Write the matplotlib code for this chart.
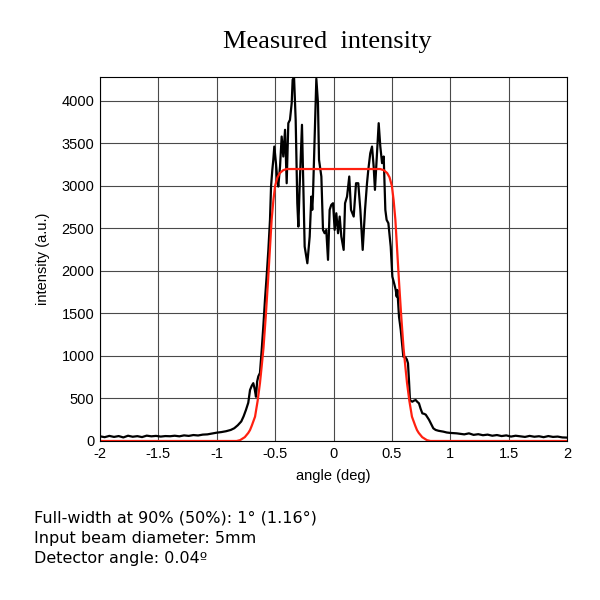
import matplotlib
matplotlib.use("Agg")
import matplotlib.pyplot as plt

# measured intensity (black)
angle = [-2.00, -1.96, -1.92, -1.88, -1.84, -1.80, -1.76, -1.72, -1.68, -1.64,
         -1.60, -1.56, -1.52, -1.48, -1.44, -1.40, -1.36, -1.32, -1.28, -1.24,
         -1.20, -1.16, -1.12, -1.08, -1.04, -1.00, -0.96, -0.92, -0.88, -0.85,
         -0.82, -0.79, -0.77, -0.75, -0.73, -0.715, -0.70, -0.687, -0.675, -0.664,
         -0.654, -0.644, -0.63, -0.615, -0.60, -0.587, -0.572, -0.558, -0.544, -0.535,
         -0.524, -0.516, -0.507, -0.493, -0.483, -0.473, -0.458, -0.444, -0.43, -0.415,
         -0.401, -0.387, -0.373, -0.358, -0.35, -0.338, -0.324, -0.31, -0.301, -0.29,
         -0.27, -0.258, -0.247, -0.233, -0.224, -0.204, -0.19, -0.182, -0.176, -0.161,
         -0.147, -0.133, -0.124, -0.104, -0.09, -0.076, -0.062, -0.047, -0.033, -0.019,
         -0.004, 0.01, 0.024, 0.039, 0.053, 0.067, 0.087, 0.099, 0.116, 0.135,
         0.15, 0.173, 0.193, 0.212, 0.23, 0.25, 0.27, 0.287, 0.298, 0.315,
         0.33, 0.344, 0.355, 0.373, 0.387, 0.401, 0.416, 0.43, 0.444, 0.455,
         0.47, 0.49, 0.504, 0.52, 0.533, 0.541, 0.547, 0.561, 0.576, 0.587,
         0.598, 0.608, 0.618, 0.628, 0.638, 0.647, 0.655, 0.665, 0.675, 0.69,
         0.704, 0.718, 0.732, 0.746, 0.761, 0.775, 0.79, 0.804, 0.818, 0.836,
         0.855, 0.875, 0.90, 0.92, 0.941, 0.97, 1.00, 1.03, 1.055, 1.08,
         1.12, 1.16, 1.20, 1.24, 1.28, 1.32, 1.36, 1.40, 1.44, 1.48,
         1.52, 1.56, 1.60, 1.64, 1.68, 1.72, 1.76, 1.80, 1.84, 1.88,
         1.92, 1.96, 2.00]
measured = [55, 45, 60, 48, 58, 42, 62, 50, 57, 46,
            63, 55, 60, 52, 58, 56, 62, 55, 66, 60,
            70, 65, 75, 78, 88, 98, 105, 115, 130, 150,
            185, 230, 290, 365, 450, 600, 650, 680, 610, 520,
            700, 760, 800, 1070, 1370, 1660, 1950, 2247, 2600, 2992,
            3188, 3300, 3462, 3267, 3100, 2992, 3227, 3580, 3345, 3659,
            3031, 3737, 3776, 3973, 4247, 4280, 3776, 2796, 2521, 2992,
            3718, 3000, 2286, 2168, 2090, 2404, 2874, 2718, 2874, 3580,
            4260, 3973, 3306, 3110, 2482, 2443, 2482, 2130, 2718, 2776,
            2796, 2482, 2678, 2443, 2639, 2404, 2247, 2796, 2874, 3110,
            2718, 2639, 3031, 3031, 2718, 2247, 2718, 3031, 3188, 3384,
            3462, 3227, 2953, 3384, 3737, 3462, 3267, 3345, 2718, 2600,
            2561, 2286, 1933, 1850, 1776, 1698, 1776, 1462, 1306, 1150,
            992, 990, 980, 960, 914, 700, 482, 470, 462, 475,
            482, 460, 443, 380, 325, 320, 310, 280, 250, 200,
            149, 130, 120, 115, 110, 100, 95, 92, 90, 85,
            78, 90, 72, 80, 68, 75, 62, 70, 58, 66,
            52, 62, 55, 48, 60, 50, 56, 45, 58, 48,
            52, 42, 40]

# flat-top model (red)
model_x = [-2.0, -0.83, -0.80, -0.76, -0.73, -0.715, -0.70, -0.672, -0.65, -0.63,
           -0.615, -0.60, -0.58, -0.56, -0.545, -0.53, -0.515, -0.50, -0.48, -0.46,
           -0.43, -0.40, 0.40, 0.43, 0.46, 0.48, 0.50, 0.515, 0.53, 0.545,
           0.56, 0.58, 0.60, 0.615, 0.63, 0.65, 0.672, 0.70, 0.715, 0.73,
           0.76, 0.80, 0.83, 2.0]
model_y = [0, 0, 10, 45, 95, 129, 180, 286, 470, 680,
           880, 1090, 1470, 1900, 2250, 2600, 2830, 3000, 3100, 3150,
           3185, 3198, 3198, 3185, 3150, 3100, 3000, 2830, 2600, 2250,
           1900, 1470, 1090, 880, 680, 470, 286, 180, 129, 95,
           45, 10, 0, 0]

xticks = [-2, -1.5, -1, -0.5, 0, 0.5, 1, 1.5, 2]
xtick_labels = ["-2", "-1.5", "-1", "-0.5", "0", "0.5", "1", "1.5", "2"]
yticks = [0, 500, 1000, 1500, 2000, 2500, 3000, 3500, 4000]

info_lines = ["Full-width at 90% (50%): 1° (1.16°)",
              "Input beam diameter: 5mm",
              "Detector angle: 0.04º"]

fig = plt.figure(figsize=(6, 6), dpi=100)
ax = fig.add_axes([100/600, 159/600, 467/600, 364/600])

ax.plot(angle, measured, color="black", lw=1.6)
ax.plot(model_x, model_y, color="#ff2010", lw=1.6)

ax.set_xlim(-2, 2)
ax.set_ylim(0, 4280)
ax.set_xticks(xticks)
ax.set_xticklabels(xtick_labels)
ax.set_yticks(yticks)
ax.grid(True, color="#4a4a4a", lw=0.8)
ax.set_axisbelow(True)
ax.tick_params(length=0, pad=4, labelsize=10.5)
for lab in ax.get_xticklabels() + ax.get_yticklabels():
    lab.set_fontfamily("Liberation Sans")
for s in ax.spines.values():
    s.set_linewidth(0.8)

fig.text(333/600, 1 - 476/600, "angle (deg)", ha="center", va="center",
         fontsize=10.5, family="Liberation Sans")
fig.text(43/600, 1 - 259/600, "intensity (a.u.)", ha="center", va="center",
         rotation=90, fontsize=10.5, family="Liberation Sans")
fig.text(327/600, 1 - 42/600, "Measured  intensity", ha="center", va="center",
         fontsize=19, family="Liberation Serif")

for i, line in enumerate(info_lines):
    fig.text(34/600, 1 - (518 + 20*i)/600, line, ha="left", va="center",
             fontsize=11.5, family="DejaVu Sans")

fig.savefig("out.png", dpi=100)
